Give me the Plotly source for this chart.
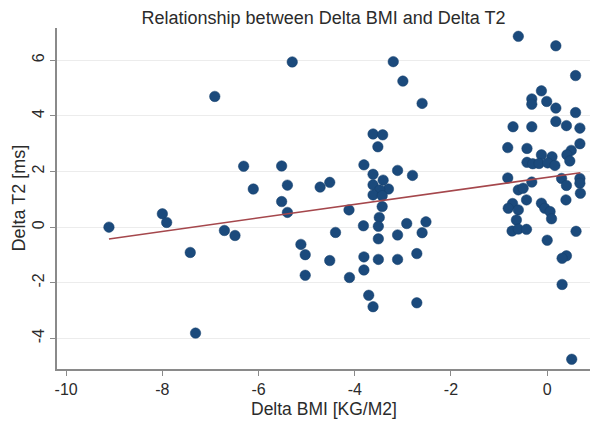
import plotly.graph_objects as go
import numpy as np

# Delta BMI (x) and Delta T2 (y)
delta_bmi = [
    -9.11, -8.00, -7.91, -7.42, -7.31, -6.91, -6.71, -6.49, -6.31, -6.11,
    -5.52, -5.40, -5.52, -5.40, -5.30, -5.12, -5.03, -5.03, -4.72, -4.52,
    -4.40, -4.52, -4.12, -4.11,
    -3.81, -3.62, -3.42, -3.52, -3.62, -3.41, -3.62, -3.30, -3.48, -3.62,
    -3.43, -3.43, -3.49, -3.82, -3.51, -3.51, -3.81, -3.51, -3.81, -3.71,
    -3.62, -3.20, -3.00, -2.60, -3.11, -2.80, -2.92, -2.52, -3.11, -2.60,
    -3.11, -2.71, -2.71,
    -0.60, 0.18, 0.59, -0.12, -0.32, -0.32, -0.01, 0.18, 0.59, -0.71,
    -0.32, 0.18, 0.40, 0.68, 0.68, -0.82, -0.42, 0.50, -0.12, 0.10,
    0.41, -0.42, -0.30, -0.17, 0.01, 0.16, 0.47, -0.82, -0.32, 0.30,
    0.68, 0.40, 0.68, 0.69, -0.60, -0.50, -0.43, 0.39, -0.72, -0.81,
    -0.60, -0.12, -0.05, 0.06, 0.09, -0.64, -0.73, -0.60, -0.43, 0.60,
    0.00, 0.40, 0.31, 0.31, 0.51,
]
delta_t2 = [
    0.00, 0.48, 0.17, -0.91, -3.81, 4.70, -0.12, -0.30, 2.19, 1.37,
    2.20, 1.51, 0.92, 0.53, 5.94, -0.62, -0.99, -1.73, 1.44, 1.61,
    -0.19, -1.20, 0.62, -1.81,
    2.24, 3.35, 3.32, 2.89, 1.90, 1.69, 1.52, 1.37, 1.34, 1.16,
    1.13, 0.74, 0.35, 0.05, 0.03, -0.42, -1.07, -1.16, -1.54, -2.45,
    -2.86, 5.95, 5.25, 4.45, 2.04, 1.86, 0.13, 0.19, -0.28, -0.20,
    -1.16, -0.95, -2.72,
    6.86, 6.52, 5.45, 4.90, 4.61, 4.42, 4.52, 4.28, 4.12, 3.61,
    3.61, 3.80, 3.65, 3.56, 3.00, 2.86, 2.83, 2.76, 2.60, 2.53,
    2.60, 2.33, 2.28, 2.29, 2.31, 2.22, 2.38, 1.77, 1.62, 1.75,
    1.75, 1.50, 1.58, 1.22, 1.34, 1.40, 0.98, 0.98, 0.85, 0.68,
    0.62, 0.86, 0.68, 0.56, 0.30, 0.26, -0.14, -0.07, -0.08, -0.15,
    -0.47, -1.03, -1.12, -2.06, -4.75,
]

# Linear fit coefficients
fit_slope = 0.243
fit_intercept = 1.79

x_ticks = [-10, -8, -6, -4, -2, 0]
y_ticks = [-4, -2, 0, 2, 4, 6]

xs = np.array(delta_bmi)
fit_x = [xs.min(), xs.max()]
fit_y = [fit_intercept + fit_slope * v for v in fit_x]

FONT = "Liberation Sans, Arial, sans-serif"
AXIS_COL = "#8a8a8a"
TXT = "#2b2b2b"

# The page body has an 8px default margin, so the figure is 8px smaller
W, H = 592, 414
ML, MT, MR, MB = 49, 20, 10, 53
PW = W - ML - MR
PH = H - MT - MB

fig = go.Figure()
fig.add_trace(go.Scatter(
    x=delta_bmi, y=delta_t2, mode="markers",
    marker=dict(color="#1b4a7c", size=10.5,
                line=dict(color="#17406c", width=0.5)),
    showlegend=False, cliponaxis=False,
))
fig.add_trace(go.Scatter(
    x=fit_x, y=fit_y, mode="lines",
    line=dict(color="#a5474c", width=1.6),
    showlegend=False,
))

fig.update_layout(
    width=W, height=H,
    margin=dict(l=ML, r=MR, t=MT, b=MB),
    paper_bgcolor="white", plot_bgcolor="white",
    font=dict(family=FONT, color=TXT, size=16),
    title=dict(text="Relationship between Delta BMI and Delta T2",
               xref="paper", x=0.5, xanchor="center",
               yref="container", y=1 - 9.5 / H, yanchor="middle",
               font=dict(family=FONT, size=18, color=TXT)),
    annotations=[
        dict(text="Delta BMI [KG/M2]", xref="paper", yref="paper",
             x=0.5, y=-(401 - 361.3) / PH, xanchor="center", yanchor="middle",
             showarrow=False, font=dict(size=17.5, color=TXT)),
        dict(text="Delta T2 [ms]", xref="paper", yref="paper",
             x=(10 - ML) / PW, y=0.5, xanchor="center", yanchor="middle",
             textangle=-90, showarrow=False, font=dict(size=18, color=TXT)),
    ],
)
fig.update_xaxes(
    range=[-10.19, 0.89], tickvals=x_ticks, ticktext=[str(v) for v in x_ticks],
    automargin=False,
    showgrid=False, zeroline=False,
    showline=True, linecolor=AXIS_COL, linewidth=1.5,
    ticks="outside", ticklen=5, tickcolor=AXIS_COL, tickwidth=1.3,
    tickfont=dict(size=16, color=TXT),
)
fig.update_yaxes(
    range=[-5.1, 7.16], tickvals=y_ticks, ticktext=[str(v) for v in y_ticks],
    tickangle=-90, automargin=False,
    showgrid=True, gridcolor="#ececec", gridwidth=1, zeroline=False,
    showline=True, linecolor=AXIS_COL, linewidth=1.5,
    ticks="outside", ticklen=5, tickcolor=AXIS_COL, tickwidth=1.3,
    tickfont=dict(size=16, color=TXT),
)

fig.write_html("out.html")
